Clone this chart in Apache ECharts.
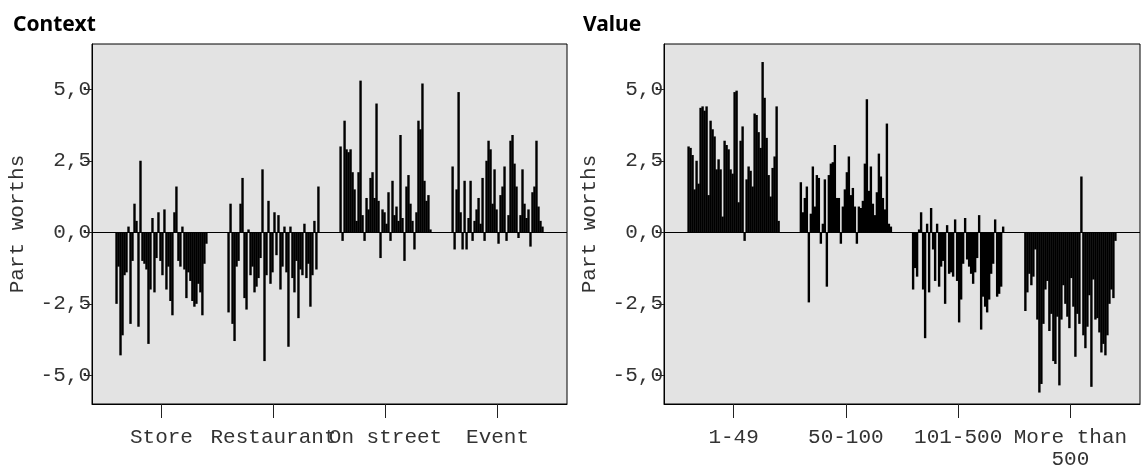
<!DOCTYPE html>
<html>
<head>
<meta charset="utf-8">
<script src="https://cdn.jsdelivr.net/npm/echarts@6/dist/echarts.min.js"></script>
<style>
html, body { margin: 0; padding: 0; background: #fff; }
#chart { width: 1146px; height: 467px; }
</style>
</head>
<body>
<div id="chart"></div>
<script>
// tick labels
var contextLabels = ['Store', 'Restaurant', 'On street', 'Event'];
var valueLabels = ['1-49', '50-100', '101-500', 'More than\n500'];
var yTicks = [-5, -2.5, 0, 2.5, 5];

// part worths per respondent (Context panel)
var store = [-2.5, -1.2, -4.3, -3.6, -1.5, -1.4, 0.2, -3.2, -1.0, 1.0, 0.4, -3.3, 2.5, -1.0, -1.1, -1.3,
  -3.9, -2.0, 0.5, -2.1, -0.9, 0.7, -1.0, -1.5, 0.8, -2.0, -1.2, -2.4, -2.9, 0.7, 1.6, -1.0, -1.2, 0.2,
  -1.3, -2.3, -1.4, -1.7, -2.4, -2.6, -2.5, -1.8, -2.1, -2.9, -1.1, -0.4];
var restaurant = [-2.8, 1.0, -3.2, -3.8, -1.2, -1.0, 1.0, 1.9, -2.3, -2.7, 0.1, -1.5, -1.2, -2.1, -1.9, -1.6,
  -0.9, 2.2, -4.5, -1.5, 1.1, -1.8, -1.4, 0.7, -0.8, 0.6, -2.0, -1.2, 0.2, -1.4, -4.0, 0.2, -1.6, -2.1,
  -1.0, -3.0, -1.3, -1.5, 0.3, -1.6, -1.1, -2.6, -1.5, 0.4, -1.3, 1.6];
var onStreet = [3.0, -0.3, 3.9, 2.9, 2.8, 2.9, 2.1, 1.5, 0.4, 2.1, 5.3, 0.6, -0.3, 1.2, 0.8, 1.9,
  2.1, 1.2, 4.5, 1.1, -0.9, 0.8, 0.7, 0.3, 1.4, -0.3, 1.8, 0.6, 0.9, 0.4, 3.4, 0.5, -1.0, 1.6,
  2.0, 1.0, 0.4, -0.6, 0.7, 3.9, 3.6, 5.2, 1.8, 1.1, 1.3, 0.1];
var eventVals = [2.3, -0.6, 1.5, 4.9, 0.7, -0.6, 1.8, -0.6, 0.5, 1.8, -0.3, 0.4, 0.8, 1.2, 0.3, 1.9,
  -0.3, 2.5, 3.2, 2.9, 1.0, 2.2, 0.8, -0.4, 1.3, 1.6, 2.3, -0.3, 0.6, 3.2, 3.4, 2.4, 1.6, -0.2,
  0.6, 2.2, 1.0, 0.5, 0.8, -0.5, 1.4, 1.6, 3.2, 0.9, 0.4, 0.2];

// Value panel
var v1to49 = [3.0, 2.95, 2.7, 1.5, 2.5, 1.7, 4.35, 4.4, 4.25, 4.4, 1.3, 3.9, 3.6, 3.35, 2.2, 2.55,
  2.2, 0.55, 3.2, 3.05, 2.9, 2.2, 2.05, 4.9, 4.95, 1.05, 3.2, 3.7, -0.3, 1.85, 2.3, 2.15, 1.6, 4.15,
  4.1, 3.5, 2.95, 5.95, 4.7, 3.3, 2.0, 1.25, 2.25, 2.65, 4.4, 0.4];
var v50to100 = [1.75, 0.7, 1.2, 1.6, -2.45, 0.65, 2.3, 0.9, 2.0, 1.9, -0.4, 0.3, 1.85, -1.9, 2.0, 2.4,
  2.45, 3.05, 1.2, 1.2, -0.4, 0.9, 1.5, 2.1, 2.65, 1.3, 1.55, 0.9, -0.4, 0.9, 0.85, 1.1, 2.4, 4.65,
  1.45, 2.3, 1.0, 0.6, 1.4, 2.75, 1.95, 1.2, 0.8, 3.8, 0.3, 0.2];
var v101to500 = [-2.0, -1.25, -1.55, 0.1, 0.7, -2.0, -3.7, 0.3, -2.1, 0.85, -0.6, -1.7, 0.3, -1.9, -1.2, -1.0,
  -2.5, 0.25, -1.45, -1.4, -1.55, 0.45, -1.7, -3.15, -2.35, -1.1, 0.5, -0.95, -1.2, -1.45, -1.8, -1.4,
  -0.9, 0.6, -3.4, -2.25, -2.6, -2.8, -2.35, -1.45, -1.1, 0.45, -2.25, -2.15, -1.9, 0.2];
var vOver500 = [-2.75, -2.1, -1.45, -1.85, -1.55, -0.6, -3.05, -5.6, -5.3, -3.2, -2.0, -1.7, -3.45, -2.85, -4.5, -4.6,
  -2.95, -5.35, -3.05, -1.85, -2.5, -2.95, -3.35, -1.6, -2.6, -4.35, -2.85, -3.2, 1.95, -3.6, -4.05, -3.3,
  -2.2, -5.4, -1.65, -3.05, -3.0, -3.5, -4.2, -3.9, -4.3, -3.6, -2.5, -2.0, -2.3, -0.3];

// spread each group's respondents around its category position
function buildBars(groups) {
  var data = [];
  var span = 0.82;
  groups.forEach(function (g, k) {
    var step = span / g.length;
    g.forEach(function (v, i) {
      data.push([k + (i - (g.length - 1) / 2) * step, v]);
    });
  });
  return data;
}

var monoFont = 'Liberation Mono';
var textColor = '#333';

function makeX(idx, labels) {
  return {
    type: 'value', gridIndex: idx, min: -0.62, max: 3.62,
    splitLine: { show: false },
    axisLine: { show: true, onZero: false, lineStyle: { color: '#000', width: 1 } },
    axisTick: { show: true, customValues: [0, 1, 2, 3], length: 14, lineStyle: { color: '#222' } },
    axisLabel: {
      customValues: [0, 1, 2, 3],
      formatter: function (v) { return labels[Math.round(v)]; },
      margin: 22, fontFamily: monoFont, fontSize: 21, lineHeight: 22, color: textColor
    }
  };
}

function makeY(idx) {
  return {
    type: 'value', gridIndex: idx, min: -6.0, max: 6.58,
    splitLine: { show: false },
    axisLine: { show: true, onZero: false, lineStyle: { color: '#000', width: 1 } },
    axisTick: { show: true, customValues: yTicks, length: 8, lineStyle: { color: '#222' } },
    axisLabel: {
      customValues: yTicks,
      formatter: function (v) { return v.toFixed(1).replace('.', ','); },
      margin: 1, fontFamily: monoFont, fontSize: 21, color: textColor
    },
    name: 'Part worths', nameLocation: 'middle', nameRotate: 90, nameGap: 64,
    nameTextStyle: { fontFamily: monoFont, fontSize: 21, color: textColor }
  };
}

function makeSeries(idx, groups) {
  return {
    type: 'bar', xAxisIndex: idx, yAxisIndex: idx,
    data: buildBars(groups),
    barWidth: 2.4,
    itemStyle: { color: '#000' },
    markLine: {
      silent: true, symbol: 'none', label: { show: false },
      lineStyle: { color: '#000', width: 1, type: 'solid' },
      data: [{ yAxis: 0 }]
    }
  };
}

var myChart = echarts.init(document.getElementById('chart'));
var titleStyle = { fontFamily: 'Noto Sans', fontWeight: 'bold', fontSize: 21, color: '#000' };
var option = {
  animation: false,
  title: [
    { text: 'Context', left: 8, top: 10, textStyle: titleStyle },
    { text: 'Value', left: 578, top: 10, textStyle: titleStyle }
  ],
  grid: [
    { left: 92, top: 44, width: 475, height: 360, show: true, backgroundColor: '#e3e3e3', borderColor: '#000', borderWidth: 1, outerBoundsMode: 'none' },
    { left: 664, top: 44, width: 476, height: 360, show: true, backgroundColor: '#e3e3e3', borderColor: '#000', borderWidth: 1, outerBoundsMode: 'none' }
  ],
  xAxis: [makeX(0, contextLabels), makeX(1, valueLabels)],
  yAxis: [makeY(0), makeY(1)],
  series: [
    makeSeries(0, [store, restaurant, onStreet, eventVals]),
    makeSeries(1, [v1to49, v50to100, v101to500, vOver500])
  ]
};
myChart.setOption(option);
</script>
</body>
</html>
